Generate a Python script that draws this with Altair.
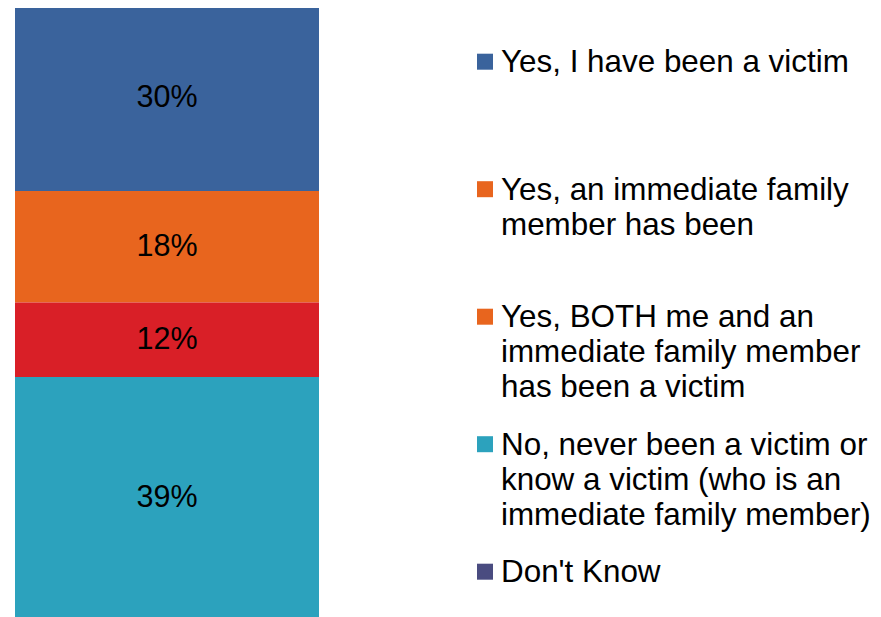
import altair as alt
import pandas as pd

categories = [
    "Yes, I have been a victim",
    "Yes, an immediate family member has been",
    "Yes, BOTH me and an immediate family member has been a victim",
    "No, never been a victim or know a victim (who is an immediate family member)",
    "Don't Know",
]
values = [30, 18, 12, 39, 1]
legend_labels = [
    "Yes, I have been a victim",
    "Yes, an immediate family\nmember has been",
    "Yes, BOTH me and an\nimmediate family member\nhas been a victim",
    "No, never been a victim or\nknow a victim (who is an\nimmediate family member)",
    "Don't Know",
]
bar_colors = ["#3A639C", "#E8651E", "#D91F27", "#2CA2BD", "#4A4C80"]
legend_colors = ["#3A639C", "#E8651E", "#E8651E", "#2CA2BD", "#4A4C80"]

df = pd.DataFrame({
    "category": categories,
    "value": values,
    "legend_label": legend_labels,
    "idx": list(range(len(categories))),
    "group": ["all"] * len(categories),
})

FONT = "Liberation Sans"

x_scale = alt.Scale(range=[0, 304], paddingInner=0, paddingOuter=0)
y_scale = alt.Scale(domain=[0, 100])

base = alt.Chart(df).transform_stack(
    stack="value",
    groupby=["group"],
    as_=["y0", "y1"],
    sort=[alt.SortField("idx", order="descending")],
)

bar = base.mark_bar().encode(
    x=alt.X("group:N", scale=x_scale, axis=None),
    y=alt.Y("y0:Q", scale=y_scale, axis=None),
    y2="y1:Q",
    color=alt.Color("category:N", scale=alt.Scale(domain=categories, range=bar_colors), legend=None),
)

bar_text = base.transform_filter("datum.value >= 5").transform_calculate(
    mid="(datum.y0 + datum.y1) / 2",
    label="datum.value + '%'",
).mark_text(font=FONT, fontSize=30.5, color="#000000", align="center", baseline="middle").encode(
    x=alt.X("group:N", scale=x_scale, axis=None),
    y=alt.Y("mid:Q", scale=y_scale, axis=None),
    text="label:N",
)

leg_sq = alt.Chart(df).mark_square(size=256, opacity=1, filled=True).encode(
    x=alt.value(470),
    y=alt.Y("category:N", sort=categories,
            scale=alt.Scale(type="point", domain=categories, range=[56.7, 566.7], padding=0), axis=None),
    color=alt.Color("category:N", scale=alt.Scale(domain=categories, range=legend_colors), legend=None),
)

leg_txt = alt.Chart(df).mark_text(
    font=FONT, fontSize=31.4, lineHeight=35, lineBreak="\n", align="left", baseline="alphabetic", color="#000000"
).encode(
    x=alt.value(486),
    y=alt.Y("category:N", sort=categories,
            scale=alt.Scale(type="point", domain=categories, range=[67, 577], padding=0), axis=None),
    text="legend_label:N",
)

chart = alt.layer(bar, bar_text, leg_sq, leg_txt).resolve_scale(
    x="independent", y="independent", color="independent"
).properties(
    width=858,
    height=620,
    padding={"left": 7, "top": -3, "right": 0, "bottom": 0},
    autosize=alt.AutoSizeParams(type="none"),
).configure_view(stroke=None)

chart.save("out.html", embed_options={"renderer": "svg", "actions": False})
